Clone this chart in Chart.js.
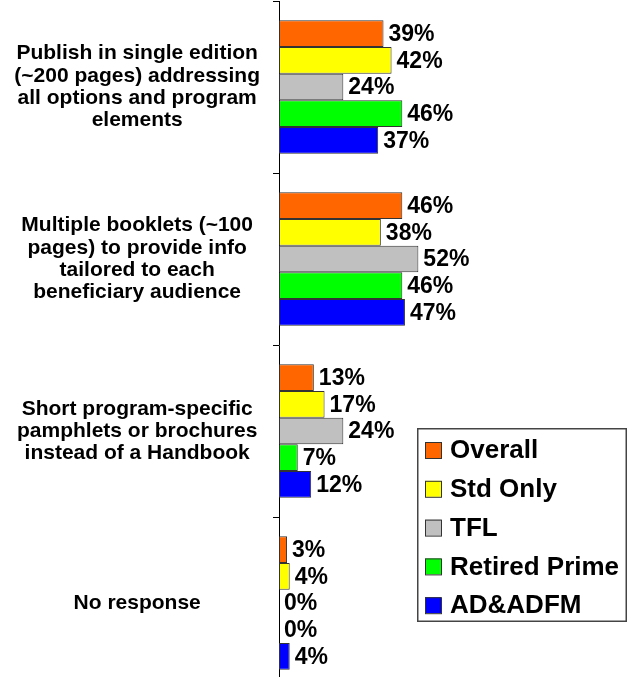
<!DOCTYPE html>
<html>
<head>
<meta charset="utf-8">
<script src="https://cdn.jsdelivr.net/npm/chart.js@4.4.0/dist/chart.umd.min.js"></script>
<style>
  html, body { margin: 0; padding: 0; background: #fff; overflow: hidden; }
  #wrap { position: relative; width: 628px; height: 690px; }
</style>
</head>
<body>
<div id="wrap"><canvas id="chart"></canvas></div>
<script>
const categories = [
  ['Publish in single edition', '(~200 pages) addressing', 'all options and program', 'elements'],
  ['Multiple booklets (~100', 'pages) to provide info', 'tailored to each', 'beneficiary audience'],
  ['Short program-specific', 'pamphlets or brochures', 'instead of a Handbook'],
  'No response'
];
const seriesNames = ['Overall', 'Std Only', 'TFL', 'Retired Prime', 'AD&ADFM'];
const overall      = [39, 46, 13, 3];
const stdOnly      = [42, 38, 17, 4];
const tfl          = [24, 52, 24, 0];
const retiredPrime = [46, 46, 7, 0];
const adAdfm       = [37, 47, 12, 4];
const colors = ['#FF6600', '#FFFF00', '#C0C0C0', '#00FF00', '#0000FF'];

const allSeries = [overall, stdOnly, tfl, retiredPrime, adAdfm];
const FONT = '"Liberation Sans", Arial, sans-serif';

// value labels at the end of each bar
const valueLabels = {
  id: 'valueLabels',
  afterDatasetsDraw(chart) {
    const ctx = chart.ctx;
    ctx.save();
    ctx.font = 'bold 23px ' + FONT;
    ctx.fillStyle = '#000';
    ctx.textAlign = 'left';
    ctx.textBaseline = 'middle';
    chart.data.datasets.forEach((ds, i) => {
      chart.getDatasetMeta(i).data.forEach((bar, j) => {
        ctx.fillText(ds.data[j] + '%', bar.x + 5, bar.y + 1);
      });
    });
    ctx.restore();
  }
};

// boxed legend sitting inside the plot
const boxLegend = {
  id: 'boxLegend',
  afterDraw(chart) {
    const ctx = chart.ctx;
    const x0 = 417, y0 = 428, w = 210, h = 194;
    ctx.save();
    ctx.fillStyle = '#fff';
    ctx.fillRect(x0, y0, w, h);
    ctx.strokeStyle = '#444';
    ctx.lineWidth = 1.5;
    ctx.strokeRect(x0 + 0.75, y0 + 0.75, w - 1.5, h - 1.5);
    ctx.lineWidth = 1;
    ctx.font = 'bold 26px ' + FONT;
    ctx.textBaseline = 'middle';
    chart.data.datasets.forEach((ds, i) => {
      const cy = y0 + 22 + i * 38.8;
      ctx.fillStyle = ds.backgroundColor;
      ctx.fillRect(425, cy - 8, 16, 16);
      ctx.strokeStyle = '#333';
      ctx.strokeRect(425.5, cy - 7.5, 16, 16);
      ctx.fillStyle = '#000';
      ctx.fillText(ds.label, 450, cy + 1);
    });
    ctx.restore();
  }
};

new Chart(document.getElementById('chart'), {
  type: 'bar',
  data: {
    labels: categories,
    datasets: seriesNames.map((name, i) => ({
      label: name,
      data: allSeries[i],
      backgroundColor: colors[i],
      borderColor: '#333',
      borderWidth: c => (c.raw === 0 ? 0 : 1),
      borderSkipped: false,
      categoryPercentage: 0.775,
      barPercentage: 1
    }))
  },
  options: {
    indexAxis: 'y',
    responsive: true,
    maintainAspectRatio: false,
    animation: false,
    layout: { padding: { top: 1, bottom: 1, right: 81, left: 0 } },
    plugins: {
      legend: { display: false },
      tooltip: { enabled: false }
    },
    scales: {
      x: { display: false, min: 0, max: 100 },
      y: {
        afterFit(scale) {
          scale.width = 279;
          scale.paddingTop = 0;
          scale.paddingBottom = 0;
        },
        border: { display: true, color: '#000', width: 1 },
        grid: { drawOnChartArea: false, offset: true, tickLength: 6, color: '#000' },
        ticks: {
          crossAlign: 'center',
          padding: 13,
          color: '#000',
          font: { family: FONT, size: 21, weight: 'bold', lineHeight: 1.06 }
        }
      }
    }
  },
  plugins: [valueLabels, boxLegend]
});
</script>
</body>
</html>
